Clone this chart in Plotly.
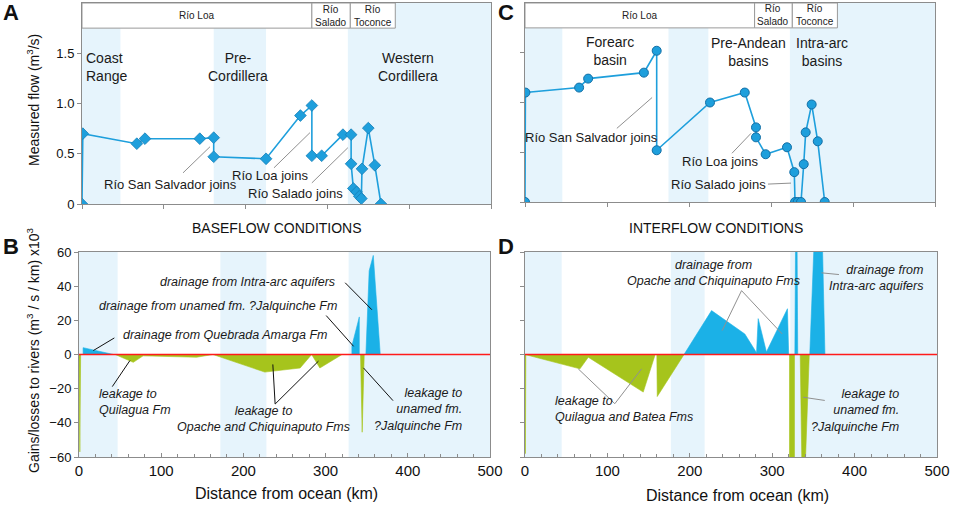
import plotly.graph_objects as go

FONT = "Liberation Sans, Arial, sans-serif"

# ---------------- data ----------------
# Panel A: measured flow, baseflow (m3/s)
a_km = [0, 1, 67, 77, 144, 161, 161, 225, 267, 281, 281, 293, 319, 329, 329,
        331.7, 335.7, 339, 341.5, 342.3, 350, 358, 365.5]
a_flow = [0, 0.70, 0.60, 0.65, 0.65, 0.66, 0.47, 0.45, 0.88, 0.98, 0.48, 0.48,
          0.69, 0.69, 0.40, 0.155, 0.12, 0.077, 0.054, 0.35, 0.755, 0.385, 0]

# Panel C: measured flow, interflow (m3/s)
c_km = [0, 0.5, 66, 77, 145, 160.6, 160.6, 225.6, 268, 281.7, 281.7, 293.5,
        319.5, 328.4, 329.3, 332.6, 336.6, 339.9, 342.3, 349.6, 357, 365.5]
c_flow = [0, 1.10, 1.15, 1.24, 1.30, 1.52, 0.52, 1.0, 1.10, 0.75, 0.65, 0.48,
          0.55, 0.30, 0, 0, 0, 0.38, 0.70, 0.98, 0.61, 0]

# Panel B: gains / losses, baseflow (x10^3 m3/s/km); None separates polygons
b_gain_km = [5, 5, 42, None, 332, 332, 341, 341, None, 349, 353, 358, 366.5]
b_gain_val = [0, 4, 0, None, 0, 5, 22, 0, None, 0, 49, 58, 0]
b_loss_km = [0, 1, 2, None, 44, 66, 78, 143, 163, None, 163, 226, 269, 283,
             None, 283, 293, 320, None, 342.5, 344.5, 347]
b_loss_val = [0, -57, 0, None, 0, -4.6, -0.8, -1.6, 0, None, 0, -10.3, -7.9, 0,
              None, 0, -7.9, 0, None, 0, -45.5, 0]

# Panel D: gains / losses, interflow
d_gain_km = [193, 226.4, 266.8, 281, 283, 293, 318.5, 320, None,
             327.5, 328.5, 330, 331, None, 345.6, 352, 360, 364]
d_gain_val = [0, 25.7, 12, 1, 21, 1.5, 26.8, 0, None,
              0, 80, 80, 0, None, 0, 80, 85, 0]
d_loss_km = [0, 0.5, 1, None, 0, 66.7, 76.8, 143.5, 158, None, 160, 160.5, 193,
             None, 321, 321, 327, 327, None, 334, 336.5, 339, 345]
d_loss_val = [0, -58, 0, None, 0, -8.4, -1.6, -22, 0, None, 0, -24.6, 0,
              None, 0, -80, -80, 0, None, 0, -80, -80, 0]

# morphostructural bands (km)
a_bands = [(0, 47), (161, 225), (325, 500)]
c_bands = [(0, 45.5), (175, 223.6), (323, 500)]
b_bands = [(0, 47), (172, 228), (328, 500)]
d_bands = [(0, 44.5), (177, 218), (322, 500)]

# river header segments
rivers = ["Río Loa", "Río<br>Salado", "Río<br>Toconce"]
a_river_bounds = [0, 281, 328, 383]
c_river_bounds = [0, 280, 326, 381]

x_ticks = [0, 100, 200, 300, 400, 500]
a_yticks = [0, 0.5, 1.0, 1.5]
a_yticktext = ["0", "0.5", "1.0", "1.5"]
b_yticks = [60, 40, 20, 0, -20, -40, -60]

# ---------------- colours ----------------
BAND = "#e6f4fc"
LINE = "#1e9fdc"
GAIN = "#1bb1e7"
LOSS = "#a6c41c"
AXIS = "#8c8c8c"

W, H = 955, 506


def px2x(p):
    return p / W


def px2y(p):
    return 1 - p / H


fig = go.Figure()

# traces
fig.add_trace(go.Scatter(x=a_km, y=a_flow, mode="lines+markers", xaxis="x", yaxis="y",
                         line=dict(color=LINE, width=1.6),
                         marker=dict(symbol="diamond", size=9, color=LINE,
                                     line=dict(color="#157fb8", width=0.8)),
                         showlegend=False, hoverinfo="skip"))
fig.add_trace(go.Scatter(x=c_km, y=c_flow, mode="lines+markers", xaxis="x2", yaxis="y2",
                         line=dict(color=LINE, width=1.6),
                         marker=dict(symbol="circle", size=9, color=LINE,
                                     line=dict(color="#136fa6", width=1)),
                         showlegend=False, hoverinfo="skip"))
for xs, ys, col, xa, ya in [(b_gain_km, b_gain_val, GAIN, "x3", "y3"),
                            (b_loss_km, b_loss_val, LOSS, "x3", "y3"),
                            (d_gain_km, d_gain_val, GAIN, "x4", "y4"),
                            (d_loss_km, d_loss_val, LOSS, "x4", "y4")]:
    fig.add_trace(go.Scatter(x=xs, y=ys, mode="lines", fill="toself", fillcolor=col,
                             line=dict(color=col, width=0.6), connectgaps=False,
                             xaxis=xa, yaxis=ya, showlegend=False, hoverinfo="skip"))

shapes = []
for bands, xr, yr in [(a_bands, "x", "y domain"), (c_bands, "x2", "y2 domain"),
                      (b_bands, "x3", "y3 domain"), (d_bands, "x4", "y4 domain")]:
    for x0, x1 in bands:
        shapes.append(dict(type="rect", xref=xr, yref=yr, x0=x0, x1=x1, y0=0, y1=1,
                           fillcolor=BAND, line=dict(width=0), layer="below"))

annotations = []
for bounds, xr, yr in [(a_river_bounds, "x", "y"), (c_river_bounds, "x2", "y2")]:
    for i, name in enumerate(rivers):
        x0, x1 = bounds[i], bounds[i + 1]
        shapes.append(dict(type="rect", xref=xr, yref=yr, x0=x0, x1=x1, y0=1.75, y1=2.0,
                           fillcolor="white", line=dict(color="#9a9a9a", width=1),
                           layer="below"))
        annotations.append(dict(xref=xr, yref=yr, x=(x0 + x1) / 2, y=1.875, text=name,
                                showarrow=False, font=dict(size=10, color="#222"),
                                xanchor="center", yanchor="middle"))

# red zero lines
for xr, yr in [("x3", "y3"), ("x4", "y4")]:
    shapes.append(dict(type="line", xref=xr, yref=yr, x0=0, x1=500, y0=0, y1=0,
                       line=dict(color="#ff1a1a", width=1.5)))


def seg(xr, yr, x0, y0, x1, y1, color="#909090", width=1):
    shapes.append(dict(type="line", xref=xr, yref=yr, x0=x0, y0=y0, x1=x1, y1=y1,
                       line=dict(color=color, width=width)))


def txt(xr, yr, x, y, text, size=13, xanchor="center", align="center", italic=False,
        color="#1a1a1a"):
    if italic:
        text = "<i>" + text.replace("<br>", "</i><br><i>") + "</i>"
    annotations.append(dict(xref=xr, yref=yr, x=x, y=y, text=text, showarrow=False,
                            font=dict(size=size, color=color, family=FONT),
                            xanchor=xanchor, yanchor="middle", align=align))


# Panel A labels
txt("x", "y", 2.4, 1.36, "Coast<br>Range", 14, xanchor="left", align="left")
txt("x", "y", 190.7, 1.36, "Pre-<br>Cordillera", 14)
txt("x", "y", 398.5, 1.36, "Western<br>Cordillera", 14)
txt("x", "y", 107.6, 0.19, "Río San Salvador joins", 13)
txt("x", "y", 230, 0.28, "Río Loa joins", 13)
txt("x", "y", 261.6, 0.10, "Río Salado joins", 13)
seg("x", "y", 123.5, 0.31, 156.5, 0.57)
seg("x", "y", 234.7, 0.36, 278.7, 0.71)
seg("x", "y", 281, 0.21, 325, 0.56)

# Panel C labels
txt("x2", "y2", 103.7, 1.52, "Forearc<br>basin", 14)
txt("x2", "y2", 272, 1.51, "Pre-Andean<br>basins", 14)
txt("x2", "y2", 362, 1.51, "Intra-arc<br>basins", 14)
txt("x2", "y2", 81.7, 0.65, "Río San Salvador joins", 13)
txt("x2", "y2", 237.8, 0.41, "Río Loa joins", 13)
txt("x2", "y2", 235.4, 0.18, "Río Salado joins", 13)
seg("x2", "y2", 112, 0.74, 155, 1.05)
seg("x2", "y2", 252.4, 0.49, 275.6, 0.69)
seg("x2", "y2", 296.3, 0.18, 324.4, 0.19)

# Panel B labels
txt("x3", "y3", 314, 42.6, "drainage from Intra-arc aquifers", 12.5, xanchor="right", italic=True)
txt("x3", "y3", 316, 28.5, "drainage from unamed fm. ?Jalquinche Fm", 12.5, xanchor="right", italic=True)
txt("x3", "y3", 50.7, 11.6, "drainage from Quebrada Amarga Fm", 12.5, xanchor="left", italic=True)
txt("x3", "y3", 21.5, -27.7, "leakage to<br>Quilagua Fm", 12.5, xanchor="left", align="left", italic=True)
txt("x3", "y3", 224.4, -38, "leakage to<br>Opache and Chiquinaputo Fms", 12.5, italic=True)
txt("x3", "y3", 468, -32, "leakage to<br>unamed fm.<br>?Jalquinche Fm", 12.5, xanchor="right",
    align="right", italic=True)
BL = "#111111"
seg("x3", "y3", 323.8, 42, 356.3, 26.2, BL)
seg("x3", "y3", 300.7, 22.8, 334, 4.8, BL)
seg("x3", "y3", 43, 9.7, 17.4, 2.3, BL)
seg("x3", "y3", 40.5, -18.8, 62, -3.5, BL)
seg("x3", "y3", 238.6, -29, 235.8, -5.8, BL)
seg("x3", "y3", 238.6, -29, 291.3, -3.9, BL)
seg("x3", "y3", 382, -27, 346, -7.8, BL)

# Panel D labels
txt("x4", "y4", 228.4, 48, "drainage from<br>Opache and Chiquinaputo Fms", 12.5, italic=True)
txt("x4", "y4", 485, 44.7, "drainage from<br>Intra-arc aquifers", 12.5, xanchor="right",
    align="right", italic=True)
txt("x4", "y4", 34.3, -32, "leakage to<br>Quilagua and Batea Fms", 12.5, xanchor="left",
    align="left", italic=True)
txt("x4", "y4", 456.8, -32.7, "leakage to<br>unamed fm.<br>?Jalquinche Fm", 12.5,
    xanchor="right", align="right", italic=True)
seg("x4", "y4", 262.8, 37.4, 239.3, 14)
seg("x4", "y4", 262.8, 37.4, 312, 12.1)
seg("x4", "y4", 381, 46.8, 359.8, 47.8)
seg("x4", "y4", 109, -28.8, 64.6, -8.4)
seg("x4", "y4", 109, -28.8, 141.5, -8.4)
seg("x4", "y4", 363.8, -26.9, 337.5, -25)


# paper-level text
def ptxt(x, y, text, size, bold=False, angle=0):
    annotations.append(dict(xref="paper", yref="paper", x=px2x(x), y=px2y(y),
                            text=("<b>%s</b>" % text) if bold else text, showarrow=False,
                            textangle=angle, font=dict(size=size, color="#111", family=FONT),
                            xanchor="center", yanchor="middle"))


ptxt(11, 13, "A", 22, bold=True)
ptxt(506, 13, "C", 22, bold=True)
ptxt(11, 246, "B", 22, bold=True)
ptxt(506, 246, "D", 22, bold=True)
ptxt(277, 228, "BASEFLOW CONDITIONS", 14)
ptxt(716, 228, "INTERFLOW CONDITIONS", 14)
ptxt(286, 493, "Distance from ocean (km)", 16)
ptxt(737, 495, "Distance from ocean (km)", 16)
ptxt(33, 100, "Measured flow (m<sup>3</sup>/s)", 14, angle=-90)
ptxt(33, 350, "Gains/losses to rivers (m<sup>3</sup> / s / km) x10<sup>3</sup>", 14, angle=-90)

common_x = dict(range=[0, 500], showline=True, mirror=True, linecolor=AXIS, linewidth=1,
                showgrid=False, zeroline=False, tickvals=x_ticks, fixedrange=True)
common_y = dict(showline=True, mirror=True, linecolor=AXIS, linewidth=1,
                showgrid=False, zeroline=False, fixedrange=True)

layout = dict(
    width=W, height=H, margin=dict(l=0, r=0, t=0, b=0, autoexpand=False),
    paper_bgcolor="white", plot_bgcolor="white",
    font=dict(family=FONT, color="#111"),
    showlegend=False,
    xaxis=dict(common_x, domain=[px2x(82), px2x(491)], anchor="y", ticks="outside",
               ticklen=4, tickcolor=AXIS, showticklabels=False),
    yaxis=dict(common_y, domain=[px2y(204), px2y(3)], anchor="x", range=[0, 2.0],
               tickvals=a_yticks, ticktext=a_yticktext, ticks="outside", ticklen=4,
               tickcolor=AXIS, tickfont=dict(size=13)),
    xaxis2=dict(common_x, domain=[px2x(525), px2x(935)], anchor="y2", ticks="outside",
                ticklen=4, tickcolor=AXIS, showticklabels=False),
    yaxis2=dict(common_y, domain=[px2y(202), px2y(3)], anchor="x2", range=[0, 2.0],
                tickvals=a_yticks, ticks="outside", ticklen=4, tickcolor=AXIS,
                showticklabels=False),
    xaxis3=dict(common_x, domain=[px2x(79), px2x(490)], anchor="y3", ticks="inside",
                ticklen=4, tickcolor=AXIS, tickfont=dict(size=15),
                minor=dict(dtick=20, ticks="inside", ticklen=3, tickcolor=AXIS)),
    yaxis3=dict(common_y, domain=[px2y(457), px2y(252)], anchor="x3", range=[-60, 60],
                tickvals=b_yticks, ticks="outside", ticklen=4, tickcolor=AXIS,
                tickfont=dict(size=13)),
    xaxis4=dict(common_x, domain=[px2x(525), px2x(937)], anchor="y4", ticks="inside",
                ticklen=4, tickcolor=AXIS, tickfont=dict(size=15),
                minor=dict(dtick=20, ticks="inside", ticklen=3, tickcolor=AXIS)),
    yaxis4=dict(common_y, domain=[px2y(457), px2y(252)], anchor="x4", range=[-60, 60],
                tickvals=b_yticks, ticks="outside", ticklen=4, tickcolor=AXIS,
                showticklabels=False),
    shapes=shapes, annotations=annotations,
)
fig.update_layout(layout)
fig.write_html("out.html", config={"displayModeBar": False, "staticPlot": True},
               post_script="document.body.style.margin='0';document.body.style.overflow='hidden';")
